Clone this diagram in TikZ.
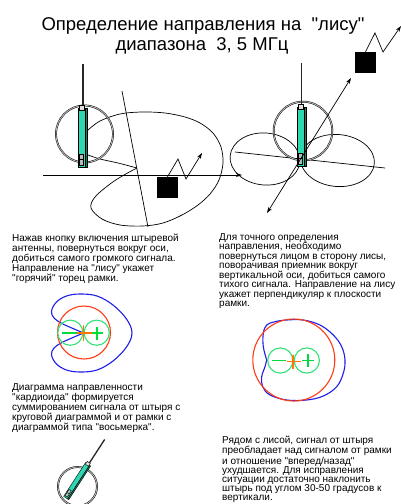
\documentclass[tikz,border=0pt]{standalone}
\usepackage{fontspec}
\setmainfont{Liberation Sans}[Ligatures=TeXOff]
\usetikzlibrary{arrows.meta}
\definecolor{rodgreen}{RGB}{45,215,175}
\definecolor{rodside}{RGB}{30,120,100}
\definecolor{lobegreen}{RGB}{50,225,120}
\definecolor{signgreen}{RGB}{0,220,60}
\definecolor{patred}{RGB}{255,60,20}
\definecolor{signorange}{RGB}{255,120,0}
\definecolor{patblue}{RGB}{30,30,235}
\newcommand\txtblock[2]{\parbox[t]{#1}{\raggedright #2}}
\begin{document}
\begin{tikzpicture}[x=1pt,y=-1pt,
  titlefont/.style={font=\fontsize{18.5}{20}\selectfont},
  para/.style={inner sep=0pt,anchor=base west},
  loopring/.style={draw=black,line width=0.45pt,double=gray!55,double distance=0.9pt},
  thinline/.style={draw=black,line width=0.7pt},
  tip/.style={-{Stealth[length=6pt,width=4pt]}},
  pattern/.style={line width=1.1pt},
  sign/.style={line width=1.8pt},
  fox/.style={fill=black},
  pics/radio/.style={code={
    \draw[line width=1.3pt,black!85] (1.5,-44) -- (1.5,-2);
    \filldraw[draw=black,line width=0.4pt,fill=rodgreen] (-3.5,0) rectangle (3.5,59);
    \filldraw[draw=black,line width=0.4pt,fill=rodside] (3.5,0) rectangle (5.5,59);
    \filldraw[draw=black,line width=0.4pt,fill=gray!25] (-2.5,-3) rectangle (3,2);
    \filldraw[draw=black,line width=0.4pt,fill=gray!55] (-2.5,46) rectangle (1.5,57);
    \draw[line width=0.4pt] (-2.5,51.5) -- (1.5,51.5);
  }}]
\useasboundingbox[fill=white] (0,0) rectangle (401,504);

% heading
\node[titlefont,anchor=base] (title1) at (203,30) {Определение направления на\ \ "лису"};
\node[titlefont,anchor=base] (title2) at (202,50) {диапазона\ \ 3, 5 МГц};

% ---- left antenna: loop held broadside, cardioid lobe
\draw[thinline] plot[smooth,tension=0.55] coordinates {
  (88,130) (100,121) (120,114) (142,112) (165,113) (185,117) (200,123)
  (213,133) (221,147) (223,163) (219,180) (210,194) (198,205) (182,215)
  (163,223) (143,226) (120,225) (102,219) (91,208) (95,197) (110,184) (124,175) (137,168)}
  plot[smooth,tension=0.55] coordinates {(137,168) (118,163) (100,159) (88,155)};
\draw[loopring] (84.5,134) circle (28.5);
\pic at (81.5,108) {radio};
\coordinate (hl) at (43,175);
\coordinate (hr) at (242,175);
\draw[thinline,tip] (hl) -- (hr);
\coordinate (sa) at (122,91);
\coordinate (sb) at (148,227);
\draw[thinline] (sa) -- (sb);
\node[fox,minimum size=21pt,inner sep=0pt] (foxA) at (167.5,187.5) {};
\draw[thinline,tip] (foxA.north) -- (178,159) -- (186,179) -- (202,153);

% ---- right antenna: figure-of-eight lobes
\draw[thinline] (265,159) ellipse[x radius=35,y radius=26,rotate=-5];
\draw[thinline] (337.5,160.5) ellipse[x radius=37,y radius=26,rotate=-5];
\coordinate (axa) at (235,152);
\coordinate (axb) at (385,168);
\draw[thinline] (axa) -- (axb);
\draw[loopring] (303,131) circle (29.3);
\pic at (300.3,107) {radio};
\coordinate (da) at (267,213);
\coordinate (db) at (351,78);
\draw[thinline,{Stealth[length=6pt,width=4pt]}-{Stealth[length=6pt,width=4pt]}] (da) -- (db);
\node[fox,minimum size=21pt,inner sep=0pt] (foxB) at (365.5,62.5) {};
\draw[thinline,tip] (foxB.north) -- (375,33) -- (383,52) -- (401,26);

% ---- text blocks
\node[para] (txtA) at (12,241.5) {\txtblock{200pt}{\fontsize{10}{10}\selectfont
Нажав кнопку включения штыревой\\
антенны, повернуться вокруг оси,\\
добиться самого громкого сигнала.\\
Направление на "лису" укажет\\
"горячий" торец рамки.}};
\node[para] (txtB) at (219,240) {\txtblock{190pt}{\fontsize{10}{9.5}\selectfont
Для точного определения\\
направления, необходимо\\
повернуться лицом в сторону лисы,\\
поворачивая приемник вокруг\\
вертикальной оси, добиться самого\\
тихого сигнала. Направление на лису\\
укажет перпендикуляр к плоскости\\
рамки.}};
\node[para] (txtC) at (12,390) {\txtblock{200pt}{\fontsize{10}{10}\selectfont
Диаграмма направленности\\
"кардиоида" формируется\\
суммированием сигнала от штыря с\\
круговой диаграммой и от рамки с\\
диаграммой типа "восьмерка".}};
\node[para] (txtD) at (222,443.3) {\txtblock{190pt}{\fontsize{10}{9.2}\selectfont
Рядом с лисой, сигнал от штыря\\
преобладает над сигналом от рамки\\
и отношение "вперед/назад"\\
ухудшается. Для исправления\\
ситуации достаточно наклонить\\
штырь под углом 30-50 градусов к\\
вертикали.}};

% ---- cardioid sketch, left
\draw[pattern,patblue] plot[smooth,tension=0.6] coordinates {
  (83.5,333) (73,328.5) (62,323.5) (54,318) (51.5,311) (56.5,302) (66.5,296)
  (80,294) (97,296) (113,305) (126.5,319) (132,333) (126.5,347) (113,361)
  (97,370) (80,372) (66.5,370) (56.5,364) (51.5,355) (54,348) (62,342.5)
  (73,337.5) (83.5,333)};
\draw[pattern,patred] (84,332.5) circle (26.5);
\draw[pattern,lobegreen] (70.3,332.7) circle (12.6);
\draw[pattern,lobegreen] (96.7,332.7) circle (12.6);
\draw[sign,signgreen] (62,332.7) -- (79,332.7);
\draw[sign,signgreen] (90,332.7) -- (103.3,332.7) (96.7,326.5) -- (96.7,339.5);
\draw[sign,signorange] (77,332.7) -- (91.5,332.7) (83.5,325) -- (83.5,340.5);

% ---- cardioid sketch, right
\draw[pattern,patblue] plot[smooth,tension=0.6] coordinates {
  (266.7,360) (263.3,346.7) (263.3,333.3) (266.7,325) (275,321.7) (286.7,320)
  (303.3,320) (320,325) (333.3,335) (341.7,346.7) (345,360) (343.3,373.3)
  (336.7,386.7) (323.3,396) (306.7,400) (286.7,400) (270,395) (262.7,386.7)
  (261.7,376.7) (265,366.7) (266.7,360)};
\draw[pattern,patred] (293.8,360) circle (41);
\draw[pattern,lobegreen] (280.3,360.5) circle (12.6);
\draw[pattern,lobegreen] (306.8,360.5) circle (12.6);
\draw[sign,signgreen] (271.5,360.5) -- (285.5,360.5);
\draw[sign,signgreen] (301.5,360.5) -- (314,360.5) (307.8,354) -- (307.8,367);
\draw[sign,signorange] (286.5,361.5) -- (300.5,361.5) (293.3,355) -- (293.3,368.5);

% ---- tilted whip, bottom
\draw[loopring] (77.5,486.5) circle (19.5);
\pic[scale=0.68,rotate=-33] at (87.5,464) {radio};
\end{tikzpicture}
\end{document}
